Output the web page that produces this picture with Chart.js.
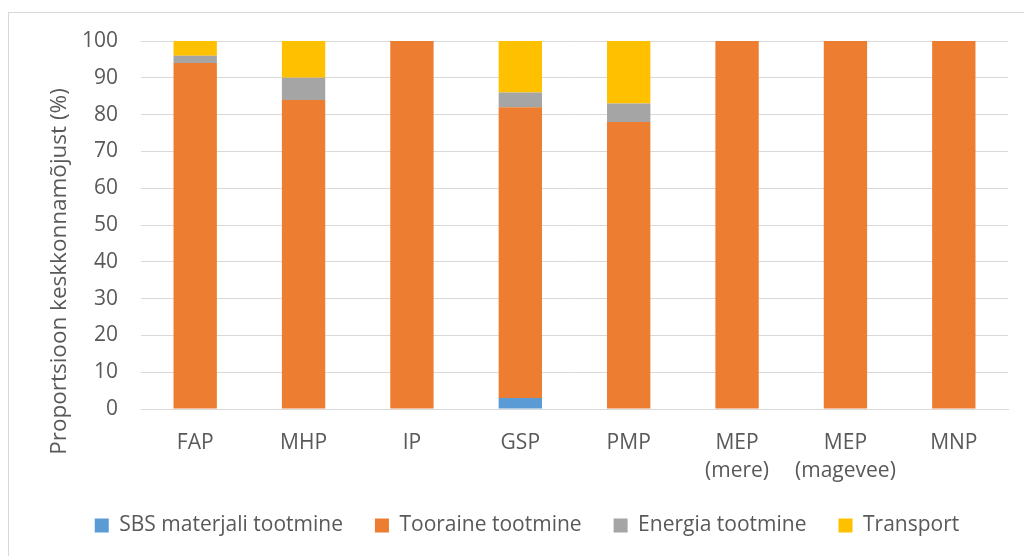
<!DOCTYPE html>
<html>
<head>
<meta charset="utf-8">
<script src="https://cdn.jsdelivr.net/npm/chart.js@4/dist/chart.umd.min.js"></script>
<style>
  html, body { margin: 0; padding: 0; background: #fff; }
  #wrap { position: relative; width: 1024px; height: 556px; }
</style>
</head>
<body>
<div id="wrap"><canvas id="c" width="1024" height="556"></canvas></div>
<script>
// Categories (multi-line labels as arrays)
const categories = ['FAP', 'MHP', 'IP', 'GSP', 'PMP', ['MEP', '(mere)'], ['MEP', '(magevee)'], 'MNP'];

// Share of environmental impact per stage (%)
const sbsMaterial = [0, 0, 0, 3, 0, 0, 0, 0];
const rawMaterial = [94, 84, 100, 79, 78, 100, 100, 100];
const energy      = [2, 6, 0, 4, 5, 0, 0, 0];
const transport   = [4, 10, 0, 14, 17, 0, 0, 0];

const seriesNames = ['SBS materjali tootmine', 'Tooraine tootmine', 'Energia tootmine', 'Transport'];
const yTitle = 'Proportsioon keskkonnamõjust (%)';

const FONT = "'Open Sans', sans-serif";
const TEXT = '#595959';
const GRID = '#d9d9d9';

// Outer frame, rotated axis title and legend offset
const framePlugin = {
  id: 'frame',
  afterLayout(chart) {
    const lg = chart.legend;
    if (lg) { lg.left += 23; lg.right += 23; }
  },
  beforeDraw(chart) {
    const ctx = chart.ctx;
    ctx.save();
    ctx.strokeStyle = GRID;
    ctx.lineWidth = 1;
    ctx.strokeRect(8.5, 12.5, 1100, 700);
    ctx.restore();
  },
  afterDraw(chart) {
    const ctx = chart.ctx;
    ctx.save();
    ctx.translate(60, 271.5);
    ctx.rotate(-Math.PI / 2);
    ctx.fillStyle = TEXT;
    ctx.font = "22.5px " + FONT;
    ctx.textAlign = 'center';
    ctx.textBaseline = 'middle';
    ctx.fillText(yTitle, 0, 0);
    ctx.restore();
  }
};

new Chart(document.getElementById('c'), {
  type: 'bar',
  data: {
    labels: categories,
    datasets: [
      { label: seriesNames[0], data: sbsMaterial, backgroundColor: '#5B9BD5' },
      { label: seriesNames[1], data: rawMaterial, backgroundColor: '#ED7D31' },
      { label: seriesNames[2], data: energy,      backgroundColor: '#A5A5A5' },
      { label: seriesNames[3], data: transport,   backgroundColor: '#FFC000' }
    ]
  },
  options: {
    responsive: false,
    animation: false,
    devicePixelRatio: 1,
    layout: { padding: { left: 0, top: 41, right: 16, bottom: 10 } },
    datasets: { bar: { categoryPercentage: 1.0, barPercentage: 0.4 } },
    plugins: {
      tooltip: { enabled: false },
      legend: {
        position: 'bottom',
        labels: {
          font: { family: FONT, size: 21 },
          color: TEXT,
          boxWidth: 14,
          boxHeight: 14,
          padding: 32,
          useBorderRadius: false
        }
      }
    },
    scales: {
      x: {
        stacked: true,
        grid: { display: false, drawTicks: false },
        border: { display: true, color: GRID, width: 1 },
        ticks: { font: { family: FONT, size: 21, lineHeight: 1.33 }, color: TEXT, padding: 20, maxRotation: 0, autoSkip: false },
        afterFit(scale) { scale.height = 74; }
      },
      y: {
        stacked: true,
        min: 0,
        max: 100,
        grid: { color: GRID, lineWidth: 1, drawTicks: false },
        border: { display: false },
        ticks: { stepSize: 10, font: { family: FONT, size: 21 }, color: TEXT, padding: 23 },
        afterFit(scale) { scale.width = 141; }
      }
    }
  },
  plugins: [framePlugin]
});
</script>
</body>
</html>
